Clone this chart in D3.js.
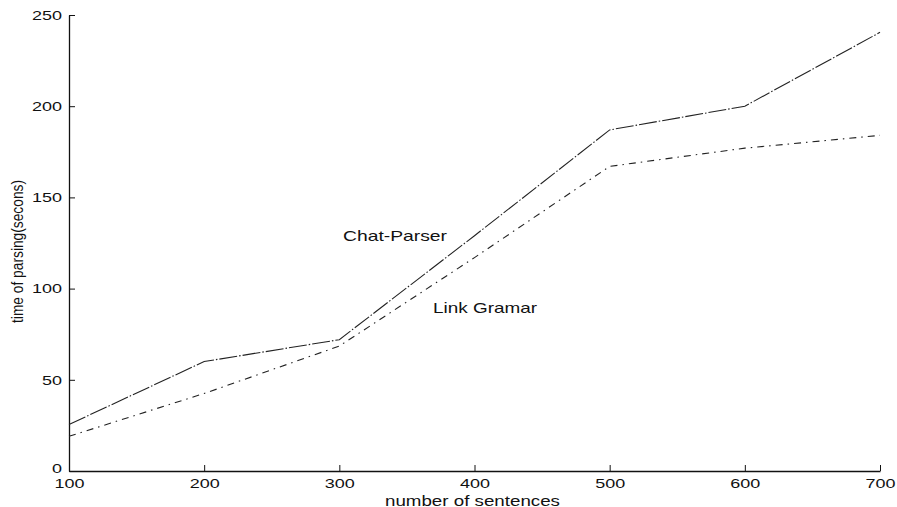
<!DOCTYPE html>
<html lang="en">
<head>
<meta charset="UTF-8">
<title>Parsing time</title>
<script src="https://d3js.org/d3.v7.min.js"></script>
<style>
  * { margin: 0; padding: 0; }
  body { background: #fff; }
  text { font-family: "Liberation Sans", Arial, sans-serif; fill: #111; }
</style>
</head>
<body>
<script>
// data
var sentences = [100, 200, 300, 400, 500, 600, 700];
var chatParser = [25.5, 60, 72, 129, 187, 200, 240.5];
var linkGrammar = [19, 42.5, 68.5, 117, 167, 177, 184];
var xTicks = [100, 200, 300, 400, 500, 600, 700];
var yTicks = [0, 50, 100, 150, 200, 250];

var width = 897, height = 507;
var svg = d3.select("body").append("svg")
    .attr("width", width)
    .attr("height", height);

var x = d3.scaleLinear().domain([100, 700]).range([69, 880]);
var y = d3.scaleLinear().domain([0, 250]).range([471, 15]);

// stretch tick numbers wide like the scanned font
function wide(sel, perChar) {
  sel.attr("textLength", function () { return this.textContent.length * perChar; })
     .attr("lengthAdjust", "spacingAndGlyphs");
}

// y axis, ticks pointing inward
var yAxis = svg.append("g")
    .attr("transform", "translate(" + x(100) + ",0)")
    .call(d3.axisLeft(y).tickValues(yTicks).tickSizeInner(-6).tickSizeOuter(0).tickPadding(7));
yAxis.selectAll("text").attr("font-size", "13.5px").call(wide, 10);
// the zero label sits a bit high so it clears the 100 below it
yAxis.selectAll("text").filter(function (d) { return d === 0; }).attr("dy", "0.1em");

// x axis
var xAxis = svg.append("g")
    .attr("transform", "translate(0," + y(0) + ")")
    .call(d3.axisBottom(x).tickValues(xTicks).tickSizeInner(-6).tickSizeOuter(0).tickPadding(7));
xAxis.selectAll("text").attr("font-size", "13.5px").call(wide, 10);

svg.selectAll(".domain").attr("stroke", "#111").attr("stroke-width", 1.3);
svg.selectAll(".tick line").attr("stroke", "#111");

var line = d3.line()
    .x(function (d) { return x(d[0]); })
    .y(function (d) { return y(d[1]); });

svg.append("path")
    .datum(d3.zip(sentences, chatParser))
    .attr("d", line)
    .attr("fill", "none")
    .attr("stroke", "#222")
    .attr("stroke-width", 1.1)
    .attr("stroke-dasharray", "18,2,1.5,2");

svg.append("path")
    .datum(d3.zip(sentences, linkGrammar))
    .attr("d", line)
    .attr("fill", "none")
    .attr("stroke", "#222")
    .attr("stroke-width", 1.1)
    .attr("stroke-dasharray", "7,5,1.5,5");

// in-plot labels
svg.append("text")
    .attr("x", 343).attr("y", 241)
    .attr("font-size", "15px")
    .attr("textLength", 104).attr("lengthAdjust", "spacingAndGlyphs")
    .text("Chat-Parser");

svg.append("text")
    .attr("x", 433).attr("y", 313)
    .attr("font-size", "15px")
    .attr("textLength", 104).attr("lengthAdjust", "spacingAndGlyphs")
    .text("Link Gramar");

// axis titles
svg.append("text")
    .attr("x", 385).attr("y", 505.5)
    .attr("font-size", "14.5px")
    .attr("textLength", 175).attr("lengthAdjust", "spacingAndGlyphs")
    .text("number of sentences");

svg.append("text")
    .attr("transform", "translate(23,323) rotate(-90)")
    .attr("font-size", "16px")
    .attr("textLength", 143).attr("lengthAdjust", "spacingAndGlyphs")
    .text("time of parsing(secons)");
</script>
</body>
</html>
